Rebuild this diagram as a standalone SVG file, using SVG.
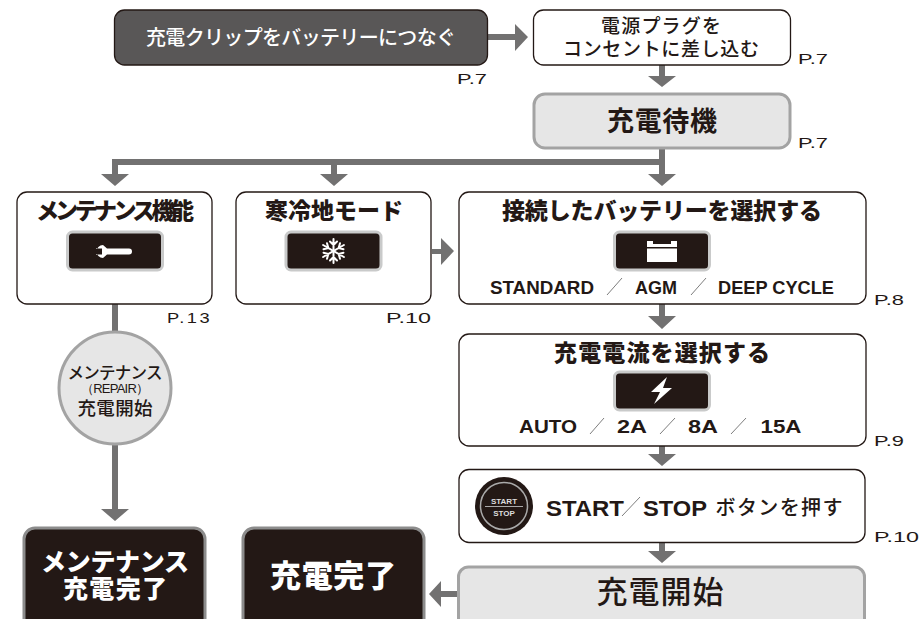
<svg xmlns="http://www.w3.org/2000/svg" width="919" height="619" viewBox="0 0 919 619">
<style>
text{font-family:"Noto Sans CJK JP","Noto Sans",sans-serif;fill:#231815;text-anchor:middle}
.lat{font-family:"Liberation Sans",Arial,sans-serif}
.box{fill:#fff;stroke:#231815;stroke-width:1.3}
.wait{fill:#e6e6e6;stroke:#a3a3a3;stroke-width:3}
.done{fill:#231815;stroke:#8c8c8c;stroke-width:3}
.disp{fill:#231815;stroke:#c9caca;stroke-width:3}
.h{font-size:23px;font-weight:900}
.opt{font-size:17.5px;font-weight:700;font-family:"Liberation Sans",Arial,sans-serif}
.pg{font-size:15px;font-family:"Liberation Sans",Arial,sans-serif;text-anchor:start}
.sl{stroke:#6e6e6e;stroke-width:.9;fill:none}
.ic{fill:#fff;stroke:none}
#connectors path{fill:#727171;stroke:none}
</style>
<g id="connectors">
<path d="M488 34H515V24L528 37L515 51V40H488Z"/>
<path d="M659 65H665V76H676L662 87L648 76H659Z"/>
<path d="M659 148H665V174H676L662 186L648 174H659Z"/>
<path d="M111 159H662V165H337V174H348L334 186L320 174H331V165H118V174H129L115 186L101 174H112V159Z"/>
<path d="M432 249H441V238L454 251L441 265V254H432Z"/>
<path d="M659 304H665V316H676L662 329L648 316H659Z"/>
<path d="M659 446H665V454H676L662 466L648 454H659Z"/>
<path d="M659 542H665V551H676L662 563L648 551H659Z"/>
<path d="M112 304H118V332H112Z"/>
<path d="M112 444H118V509H129L115 521L101 509H112Z"/>
<path d="M458 591V597H441V607L429 594L441 581V591Z"/>
</g>
<g id="clip"><rect x="114.500" y="10" width="373" height="55" rx="10" fill="#595757" stroke="#231815" stroke-width="1.3"/>
<text x="301" y="45" font-size="20" font-weight="500" style="fill:#fff" textLength="310">充電クリップをバッテリーにつなぐ</text>
<text class="pg" x="457" y="84" textLength="30" lengthAdjust="spacingAndGlyphs">P.7</text></g>
<g id="plug"><rect class="box" x="533.500" y="10" width="257" height="55" rx="10"/>
<text x="661" y="33" font-size="19" font-weight="500" textLength="120">電源プラグを</text>
<text x="661" y="56" font-size="19" font-weight="500" textLength="196">コンセントに差し込む</text>
<text class="pg" x="798" y="64" textLength="30" lengthAdjust="spacingAndGlyphs">P.7</text></g>
<g id="standby"><rect class="wait" x="534" y="94" width="256" height="54" rx="11"/>
<text x="662" y="131" font-size="27" font-weight="700" textLength="110">充電待機</text>
<text class="pg" x="798" y="148" textLength="30" lengthAdjust="spacingAndGlyphs">P.7</text></g>
<g id="maint"><rect class="box" x="17" y="192" width="195" height="112" rx="10"/>
<text class="h" x="115" y="219" textLength="158">メンテナンス機能</text>
<rect class="disp" x="67.500" y="232" width="95" height="38" rx="5"/>
<path d="M103 245A6.500 6.500 0 1 0 103 258L107 254.500H129A3 3 0 0 0 129 248.500H107Z M96 248.500h6v6h-6z" class="ic"/><rect x="95" y="249" width="6" height="5" fill="#231815"/>
<text class="pg" x="167" y="323" textLength="45" lengthAdjust="spacingAndGlyphs" style="letter-spacing:2px">P.13</text></g>
<g id="cold"><rect class="box" x="236" y="192" width="195" height="112" rx="10"/>
<text class="h" x="334" y="219" textLength="138">寒冷地モード</text>
<rect class="disp" x="286" y="232" width="95" height="38" rx="5"/>
<g stroke="#fff" stroke-width="2" stroke-linecap="round" fill="none" transform="translate(333.500 251)">
<g id="arm"><path d="M0 -12V12M-3.500 -9.500L0 -6L3.500 -9.500M-3.500 9.500L0 6L3.500 9.500"/></g>
<path transform="rotate(60)" d="M0 -12V12M-3.500 -9.500L0 -6L3.500 -9.500M-3.500 9.500L0 6L3.500 9.500"/>
<path transform="rotate(120)" d="M0 -12V12M-3.500 -9.500L0 -6L3.500 -9.500M-3.500 9.500L0 6L3.500 9.500"/></g>
<text class="pg" x="386" y="323" textLength="45" lengthAdjust="spacingAndGlyphs">P.10</text></g>
<g id="battery"><rect class="box" x="459" y="192" width="407" height="112" rx="10"/>
<text class="h" x="662" y="219" textLength="320">接続したバッテリーを選択する</text>
<rect class="disp" x="614.500" y="232" width="95" height="38" rx="5"/>
<path class="ic" d="M647 244V241H653V244H671V241H677V244H677V262H647Z"/><rect x="647" y="247" width="30" height="1.500" fill="#231815"/>
<text class="opt" x="542" y="294" textLength="104" lengthAdjust="spacingAndGlyphs">STANDARD</text>
<path class="sl" d="M607 295L622 278"/>
<text class="opt" x="656" y="294" textLength="42" lengthAdjust="spacingAndGlyphs">AGM</text>
<path class="sl" d="M691 295L706 278"/>
<text class="opt" x="776" y="294" textLength="116" lengthAdjust="spacingAndGlyphs">DEEP CYCLE</text>
<text class="pg" x="874" y="305" textLength="30" lengthAdjust="spacingAndGlyphs">P.8</text></g>
<g id="current"><rect class="box" x="459" y="334" width="407" height="112" rx="10"/>
<text class="h" x="662" y="361" textLength="216">充電電流を選択する</text>
<rect class="disp" x="614.500" y="372" width="95" height="38" rx="5"/>
<path class="ic" d="M667 377L651 392H660L654 404L672 388H663Z"/>
<text class="opt" x="548" y="433" textLength="58" lengthAdjust="spacingAndGlyphs">AUTO</text>
<path class="sl" d="M590 434L604 418"/>
<text class="opt" x="632" y="433" textLength="30" lengthAdjust="spacingAndGlyphs">2A</text>
<path class="sl" d="M660 434L675 418"/>
<text class="opt" x="703" y="433" textLength="30" lengthAdjust="spacingAndGlyphs">8A</text>
<path class="sl" d="M731 434L746 418"/>
<text class="opt" x="781" y="433" textLength="41" lengthAdjust="spacingAndGlyphs">15A</text>
<text class="pg" x="874" y="446" textLength="30" lengthAdjust="spacingAndGlyphs">P.9</text></g>
<g id="start"><rect class="box" x="459" y="469.500" width="406" height="73" rx="10"/>
<circle cx="504" cy="506" r="29" fill="#231815"/><circle cx="504" cy="506" r="23.500" fill="none" stroke="#aaa" stroke-width="1.500"/>
<path d="M485 506.500H523" stroke="#aaa" stroke-width="1"/>
<text class="lat" x="504" y="504" font-size="8" font-weight="700" style="fill:#ddd">START</text>
<text class="lat" x="504" y="516" font-size="8" font-weight="700" style="fill:#ddd">STOP</text>
<text class="lat" x="585" y="516" font-size="22" font-weight="700" text-anchor="middle" textLength="78" lengthAdjust="spacingAndGlyphs">START</text>
<path class="sl" d="M622 516L640 497"/>
<text class="lat" x="675" y="516" font-size="22" font-weight="700" textLength="64" lengthAdjust="spacingAndGlyphs">STOP</text>
<text x="779" y="515" font-size="20" font-weight="500" textLength="127">ボタンを押す</text>
<text class="pg" x="874" y="542" textLength="45" lengthAdjust="spacingAndGlyphs">P.10</text></g>
<g id="charging"><rect class="wait" x="458.500" y="567" width="406" height="62" rx="10"/>
<text x="660" y="603" font-size="31" font-weight="500" textLength="127">充電開始</text></g>
<g id="repair"><circle cx="115" cy="388" r="56" fill="#e6e6e6" stroke="#a3a3a3" stroke-width="3"/>
<text x="115" y="379" font-size="16.500" font-weight="500" textLength="95">メンテナンス</text>
<text class="lat" x="115" y="393" font-size="13" textLength="68">（REPAIR）</text>
<text x="115" y="415" font-size="18.500" font-weight="500" textLength="75">充電開始</text></g>
<g id="maintdone"><rect class="done" x="24" y="528" width="181" height="105" rx="11"/>
<text x="115" y="571" font-size="25" font-weight="900" style="fill:#fff" textLength="148">メンテナンス</text>
<text x="115" y="598" font-size="25" font-weight="900" style="fill:#fff" textLength="104">充電完了</text></g>
<g id="done"><rect class="done" x="243" y="528" width="181" height="105" rx="11"/>
<text x="333" y="587" font-size="31" font-weight="900" style="fill:#fff" textLength="126">充電完了</text></g>
</svg>
